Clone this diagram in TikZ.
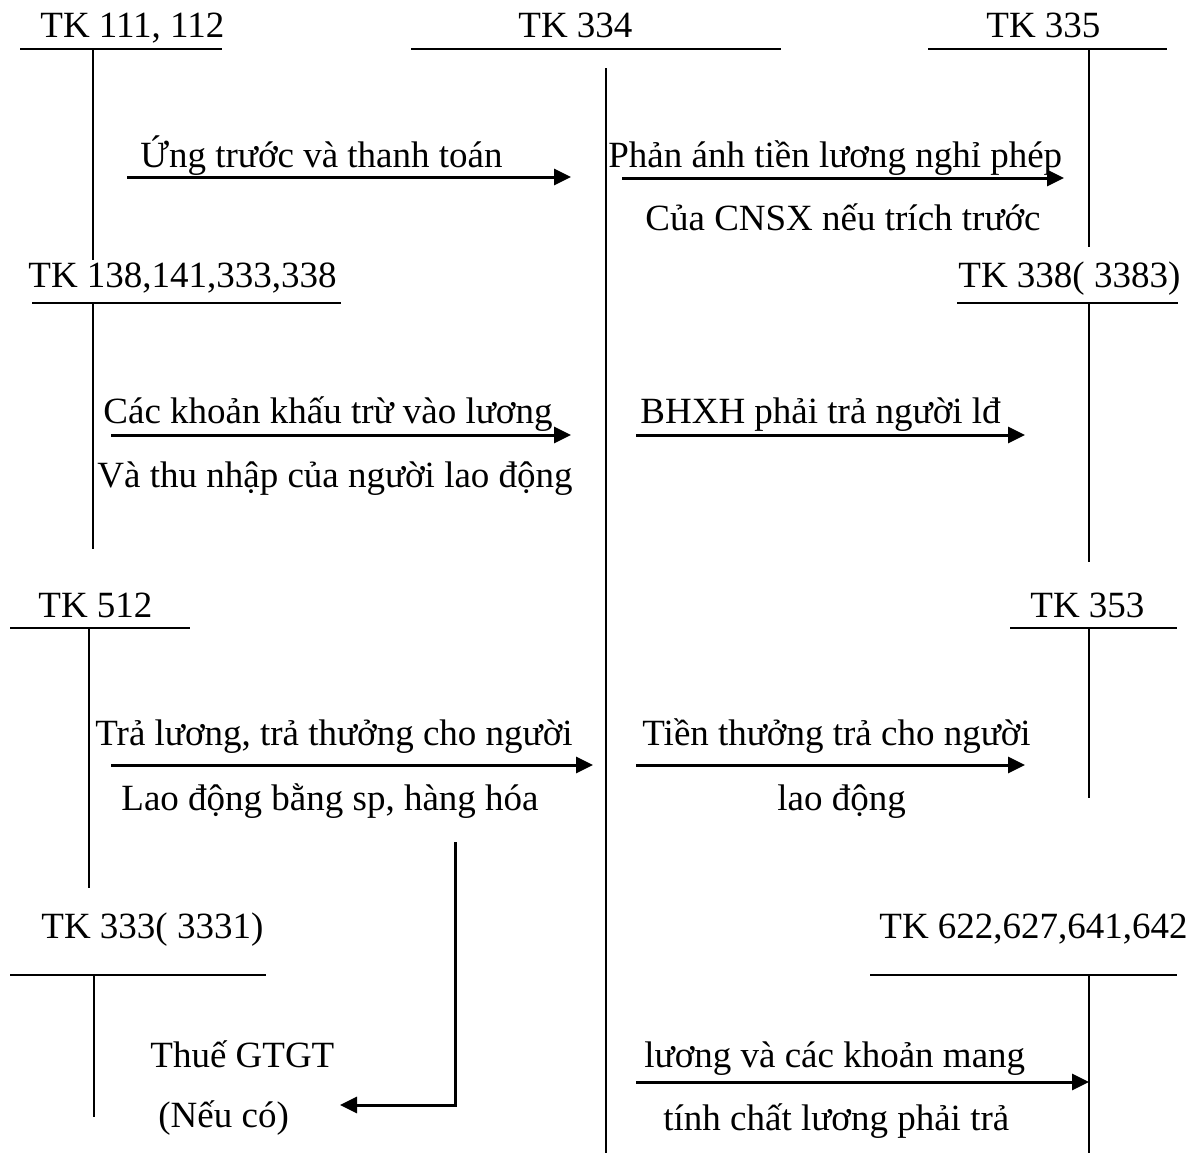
\documentclass[tikz,border=0pt]{standalone}
\usepackage{fontspec}
\setmainfont{Liberation Serif}
\usetikzlibrary{arrows.meta}
\begin{document}
\begin{tikzpicture}[x=0.5pt,y=-0.5pt,
  lbl/.style={anchor=base west, inner sep=0pt, font=\fontsize{18.5}{22}\selectfont},
  tline/.style={line width=1.1pt},
  flow/.style={line width=1.5pt, -{Triangle[length=8.5pt,width=8pt]}}]
\useasboundingbox (0,0) rectangle (1197,1153);

% ---- T-accounts: title, top rule, vertical stem ----
\node[lbl] (t111) at (40,37) {TK 111, 112};
\draw[tline] (20,49) -- (222,49) (93,49) -- (93,260);

\node[lbl] (t334) at (518,37) {TK 334};
\draw[tline] (411,49) -- (781,49) (606,68) -- (606,1153);

\node[lbl] (t335) at (986,37) {TK 335};
\draw[tline] (928,49) -- (1167,49) (1089,49) -- (1089,247);

\node[lbl] (t138) at (28,287) {TK 138,141,333,338};
\draw[tline] (32,303) -- (341,303) (93,303) -- (93,549);

\node[lbl] (t338) at (958,287) {TK 338( 3383)};
\draw[tline] (957,303) -- (1178,303) (1089,303) -- (1089,562);

\node[lbl] (t512) at (38,617) {TK 512};
\draw[tline] (10,628) -- (190,628) (89,628) -- (89,888);

\node[lbl] (t353) at (1030,617) {TK 353};
\draw[tline] (1010,628) -- (1177,628) (1089,628) -- (1089,798);

\node[lbl] (t333) at (41,938) {TK 333( 3331)};
\draw[tline] (10,975) -- (266,975) (94,975) -- (94,1117);

\node[lbl] (t622) at (879,938) {TK 622,627,641,642};
\draw[tline] (870,975) -- (1177,975) (1089,975) -- (1089,1153);

% ---- flow end points ----
\coordinate (a1s) at (127,177);  \coordinate (a1e) at (571,177);
\coordinate (a2s) at (622,178);  \coordinate (a2e) at (1064,178);
\coordinate (a3s) at (111,435);  \coordinate (a3e) at (571,435);
\coordinate (a4s) at (636,435);  \coordinate (a4e) at (1025,435);
\coordinate (a5s) at (111,765);  \coordinate (a5e) at (593,765);
\coordinate (a6s) at (636,765);  \coordinate (a6e) at (1025,765);
\coordinate (a7s) at (455,842);  \coordinate (a7e) at (340,1105);
\coordinate (a8s) at (636,1082); \coordinate (a8e) at (1089,1082);

% ---- flows ----
\draw[flow] (a1s) -- (a1e);
\node[lbl] (l1) at (140,167) {Ứng trước và thanh toán};

\draw[flow] (a2s) -- (a2e);
\node[lbl] (l2a) at (608,167) {Phản ánh tiền lương nghỉ phép};
\node[lbl] (l2b) at (645,230) {Của CNSX nếu trích trước};

\draw[flow] (a3s) -- (a3e);
\node[lbl] (l3a) at (103,423) {Các khoản khấu trừ vào lương};
\node[lbl] (l3b) at (97,487) {Và thu nhập của người lao động};

\draw[flow] (a4s) -- (a4e);
\node[lbl] (l4) at (640,423) {BHXH phải trả người lđ};

\draw[flow] (a5s) -- (a5e);
\node[lbl] (l5a) at (95,745) {Trả lương, trả thưởng cho người};
\node[lbl] (l5b) at (121,810) {Lao động bằng sp, hàng hóa};

\draw[flow] (a6s) -- (a6e);
\node[lbl] (l6a) at (642,745) {Tiền thưởng trả cho người};
\node[lbl] (l6b) at (777,810) {lao động};

\draw[flow] (a7s) |- (a7e);
\node[lbl] (l7a) at (150,1067) {Thuế GTGT};
\node[lbl] (l7b) at (158,1127) {(Nếu có)};

\draw[flow] (a8s) -- (a8e);
\node[lbl] (l8a) at (644,1067) {lương và các khoản mang};
\node[lbl] (l8b) at (663,1130) {tính chất lương phải trả};
\end{tikzpicture}
\end{document}
